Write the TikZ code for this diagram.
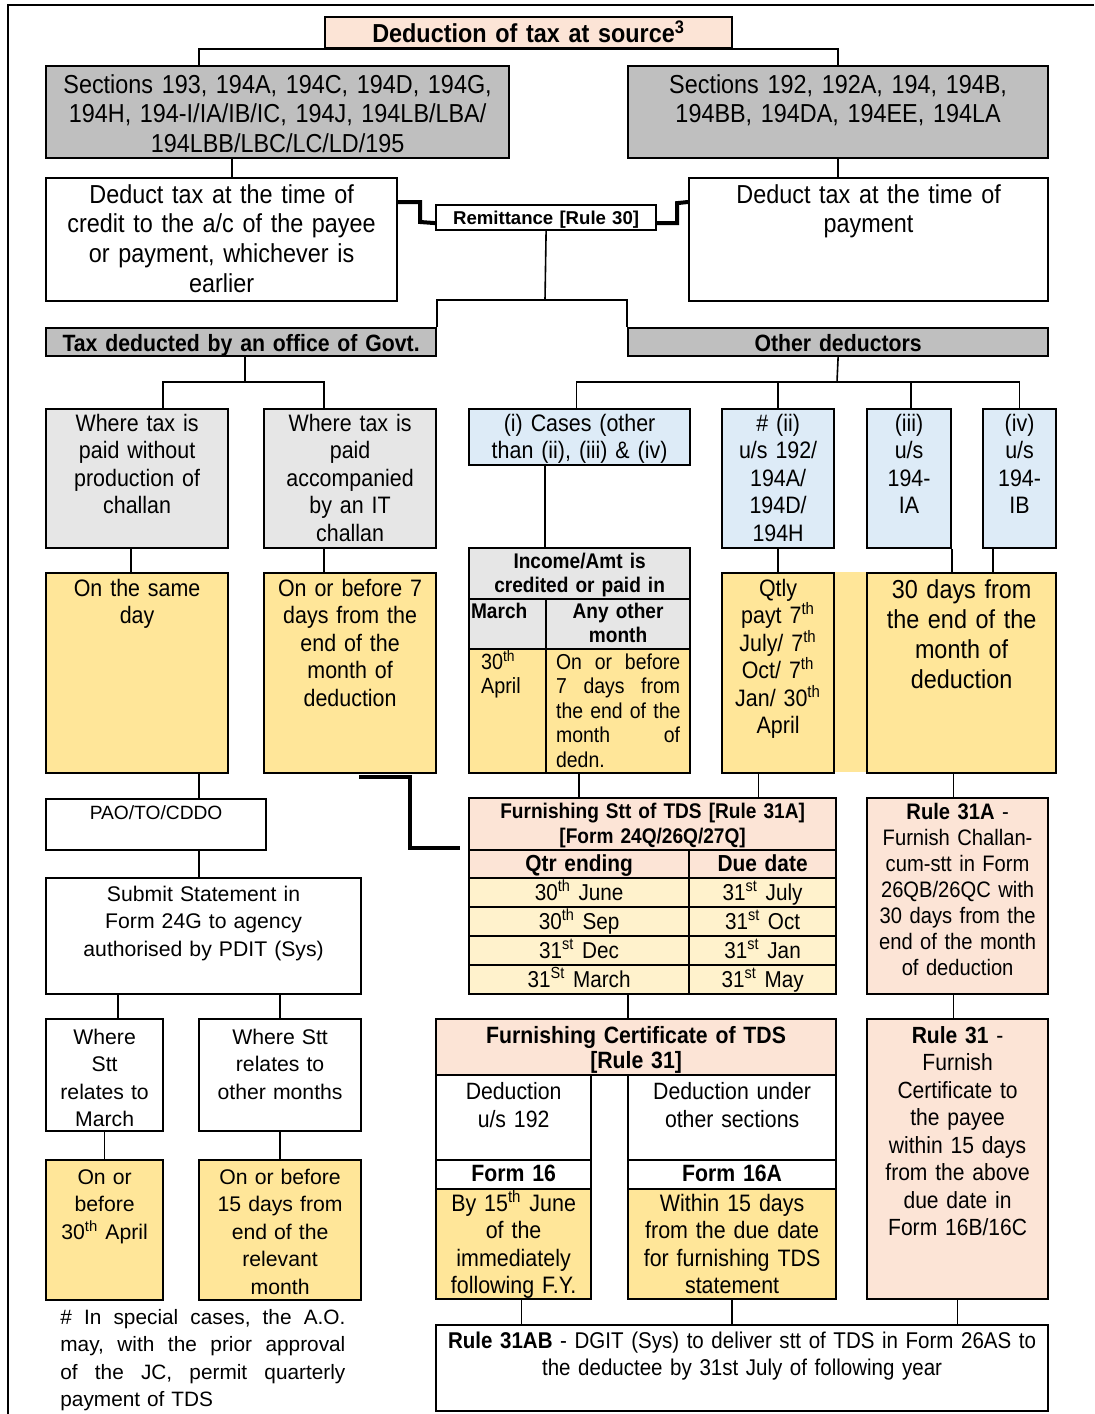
\documentclass[tikz,border=0pt]{standalone}
\usepackage{fontspec}
\setmainfont{Liberation Sans}[FakeStretch=0.9]
\newfontfamily\widefont{Liberation Sans}
\usepackage{xcolor}
\usepackage{tikz}
\definecolor{tdsgray}  {HTML}{BFBFBF}
\definecolor{tdslight} {HTML}{E6E6E6}
\definecolor{tdsyellow}{HTML}{FFE699}
\definecolor{tdspale}  {HTML}{FFF2CC}
\definecolor{tdspeach} {HTML}{FCE4D6}
\definecolor{tdsblue}  {HTML}{DDEBF7}
\newcommand\fbig{\fontsize{13}{14.9}\selectfont}
\newcommand\fmed{\fontsize{11.9}{13.75}\selectfont}
\newcommand\fwide{\widefont\fontsize{10.6}{13.75}\selectfont}
\newcommand\sth{\textsuperscript{th}}
\newcommand\sst{\textsuperscript{st}}

\begin{document}
\begin{tikzpicture}[x=0.5pt, y=-0.5pt,
    tdsbox/.style = {draw, line width=1.1pt, inner xsep=1pt, inner ysep=0pt,
                     align=center, anchor=north west},
    sz/.code n args = {3}{%
        \pgfmathsetlengthmacro\tdsw{#1*0.5pt-2pt}%
        \edef\tdsset{\noexpand\tikzset{text width=\tdsw}}\tdsset
        \tikzset{minimum width=#1*0.5pt, text height=#3pt,
                 text depth=#2*0.5pt-#3pt}},
    gbox/.style = {tdsbox, fill=tdsgray},
    lbox/.style = {tdsbox, fill=tdslight},
    ybox/.style = {tdsbox, fill=tdsyellow},
    pbox/.style = {tdsbox, fill=tdspeach},
    bbox/.style = {tdsbox, fill=tdsblue},
    cbox/.style = {tdsbox, fill=tdspale},
    wbox/.style = {tdsbox, fill=white},
    ln/.style   = {line width=0.8pt},
    thk/.style  = {line width=2pt}
  ]
  \useasboundingbox (0,0) rectangle (1094,1414);
  \draw[line width=1pt] (8,1414) -- (8,5) -- (1094,5);

  %% top
  \node[pbox, sz={407}{31}{12.5}, font=\fbig\bfseries] (title) at (324,16)
        {Deduction of tax at source\textsuperscript{3}};
  \node[gbox, sz={463}{92}{13.5}, font=\fbig] (s1) at (45,65)
        {Sections 193, 194A, 194C, 194D, 194G,\\
         194H, 194-I/IA/IB/IC, 194J, 194LB/LBA/\\
         194LBB/LBC/LC/LD/195};
  \node[gbox, sz={420}{92}{13.5}, font=\fbig] (s2) at (627,65)
        {Sections 192, 192A, 194, 194B,\\ 194BB, 194DA, 194EE, 194LA};
  \node[wbox, sz={351}{123}{12.5}, font=\fbig] (d1) at (45,177)
        {Deduct tax at the time of\\ credit to the a/c of the payee\\
         or payment, whichever is\\ earlier};
  \node[wbox, sz={359}{123}{12.5}, font=\fbig] (d2) at (688,177)
        {Deduct tax at the time of\\ payment};
  \node[wbox, sz={220}{25}{9.5}, font=\widefont\fontsize{9.3}{11}\selectfont\bfseries]
        (rem) at (435,204) {Remittance [Rule 30]};

  \node[gbox, sz={390}{28}{11.5}, font=\fontsize{11.8}{13}\selectfont\bfseries]
        (gov) at (45,327) {Tax deducted by an office of Govt.};
  \node[gbox, sz={420}{28}{11.5}, font=\fontsize{11.8}{13}\selectfont\bfseries]
        (oth) at (627,327) {Other deductors};

  %% Govt. side
  \node[lbox, sz={182}{139}{11}, font=\fmed] (w1) at (45,408)
        {Where tax is\\ paid without\\ production of\\ challan};
  \node[lbox, sz={172}{139}{11}, font=\fmed] (w2) at (263,408)
        {Where tax is\\ paid\\ accompanied\\ by an IT\\ challan};
  \node[ybox, sz={182}{200}{11.5}, font=\fmed] (y1) at (45,572)
        {On the same\\ day};
  \node[ybox, sz={172}{200}{11.5}, font=\fmed] (y2) at (263,572)
        {On or before 7\\ days from the\\ end of the\\ month of\\ deduction};
  \node[wbox, sz={220}{51}{10}, font=\widefont\fontsize{9.6}{12}\selectfont]
        (pao) at (45,798) {PAO/TO/CDDO};
  \node[wbox, sz={315}{116}{11.5}, font=\fwide] (sub) at (45,877)
        {Submit Statement in\\ Form 24G to agency\\ authorised by PDIT (Sys)};
  \node[wbox, sz={117}{112}{12.5}, font=\fwide] (wm) at (45,1018)
        {Where\\ Stt\\ relates to\\ March};
  \node[wbox, sz={162}{112}{12.5}, font=\fwide] (wo) at (198,1018)
        {Where Stt\\ relates to\\ other months};
  \node[ybox, sz={117}{140}{12}, font=\fwide] (ym) at (45,1159)
        {On or\\ before\\ 30\sth{} April};
  \node[ybox, sz={162}{140}{12}, font=\fwide] (yo) at (198,1159)
        {On or before\\ 15 days from\\ end of the\\ relevant\\ month};
  \node[anchor=north west, inner sep=0pt, align=left, text width=142.5pt,
        text height=9.5pt, font=\widefont\fontsize{10.4}{13.75}\selectfont]
        (note) at (60,1305)
        {\makebox[142.5pt][s]{\# \hfill In \hfill special \hfill cases, \hfill the \hfill A.O.}\\
         \makebox[142.5pt][s]{may, \hfill with \hfill the \hfill prior \hfill approval}\\
         \makebox[142.5pt][s]{of \hfill the \hfill JC, \hfill permit \hfill quarterly}\\
         payment of TDS};

  %% Other deductors
  \node[bbox, sz={221}{56}{11}, font=\fmed] (c1) at (468,408)
        {(i) Cases (other\\ than (ii), (iii) \& (iv)};
  \node[bbox, sz={112}{139}{11}, font=\fmed] (c2) at (721,408)
        {\# (ii)\\ u/s 192/\\ 194A/\\ 194D/\\ 194H};
  \node[bbox, sz={84}{139}{11}, font=\fmed] (c3) at (866,408)
        {(iii)\\ u/s\\ 194-\\ IA};
  \node[bbox, sz={73}{139}{11}, font=\fmed] (c4) at (982,408)
        {(iv)\\ u/s\\ 194-\\ IB};

  \node[lbox, sz={221}{51}{10}, font=\fontsize{10.6}{12}\selectfont\bfseries]
        (th) at (468,547) {Income/Amt is\\ credited or paid in};
  \node[lbox, sz={77}{50}{9.5}, align=left,
        font=\fontsize{10.6}{12}\selectfont\bfseries] (tm) at (468,598) {March};
  \node[lbox, sz={144}{50}{9.5}, font=\fontsize{10.6}{12}\selectfont\bfseries]
        (ta) at (545,598) {Any other\\ month};
  \node[ybox, sz={77}{124}{10}, align=left, font=\fontsize{11}{12.25}\selectfont]
        (tv1) at (468,648) {\hspace*{5pt}30\sth\\ \hspace*{5pt}April};
  \node[ybox, sz={144}{124}{10}, font=\fontsize{10.8}{12.25}\selectfont]
        (tv2) at (545,648)
        {\makebox[62pt][s]{On \hfill or \hfill before}\\
         \makebox[62pt][s]{7 \hfill days \hfill from}\\
         \makebox[62pt][s]{the \hfill end \hfill of \hfill the}\\
         \makebox[62pt][s]{month \hfill of}\\
         \makebox[62pt][l]{dedn.}};

  \fill[tdsyellow] (833,572) rectangle (866,772);
  \node[ybox, sz={112}{200}{11.5}, font=\fmed] (qtly) at (721,572)
        {Qtly\\ payt 7\sth\\ July/ 7\sth\\ Oct/ 7\sth\\ Jan/ 30\sth\\ April};
  \node[ybox, sz={189}{200}{12.5}, font=\fontsize{13}{15}\selectfont]
        (days30) at (866,572)
        {30 days from\\ the end of the\\ month of\\ deduction};

  %% Furnishing statement
  \node[pbox, sz={367}{52}{10}, font=\fontsize{10.6}{12.5}\selectfont\bfseries]
        (ft) at (468,797)
        {Furnishing Stt of TDS [Rule 31A]\\ {[Form 24Q/26Q/27Q]}};
  \node[pbox, sz={220}{28}{10.5}, font=\fontsize{11.6}{13}\selectfont\bfseries]
        (fh1) at (468,849) {Qtr ending};
  \node[pbox, sz={147}{28}{10.5}, font=\fontsize{11.6}{13}\selectfont\bfseries]
        (fh2) at (688,849) {Due date};
  \foreach \qt/\dd [count=\i] in {30\sth{} June/31\sst{} July, 30\sth{} Sep/31\sst{} Oct,
                                  31\sst{} Dec/31\sst{} Jan, 31\textsuperscript{St} March/31\sst{} May} {
    \node[cbox, sz={220}{29}{11}, font=\fontsize{11.5}{13}\selectfont]
          (qa\i) at (468,{877+29*(\i-1)}) {\qt};
    \node[cbox, sz={147}{29}{11}, font=\fontsize{11.5}{13}\selectfont]
          (qb\i) at (688,{877+29*(\i-1)}) {\dd};
  }
  \node[pbox, sz={181}{196}{10.5}, font=\fontsize{11.2}{13}\selectfont]
        (r31a) at (866,797)
        {\textbf{Rule 31A} -\\ Furnish Challan-\\ cum-stt in Form\\ 26QB/26QC with\\
         30 days from the\\ end of the month\\ of deduction};

  %% Furnishing certificate
  \node[pbox, sz={400}{56}{12}, font=\fontsize{11.8}{12.5}\selectfont\bfseries]
        (fct) at (435,1018) {Furnishing Certificate of TDS\\ {[Rule 31]}};
  \node[wbox, sz={155}{85}{12}, font=\fontsize{11.8}{14}\selectfont]
        (fl1) at (435,1074) {Deduction\\ u/s 192};
  \node[wbox, sz={208}{85}{12}, font=\fontsize{11.8}{14}\selectfont]
        (fr1) at (627,1074) {Deduction under\\ other sections};
  \node[wbox, sz={155}{29}{10.5}, font=\fontsize{11.8}{13}\selectfont\bfseries]
        (fl2) at (435,1159) {Form 16};
  \node[wbox, sz={208}{29}{10.5}, font=\fontsize{11.8}{13}\selectfont\bfseries]
        (fr2) at (627,1159) {Form 16A};
  \node[ybox, sz={155}{110}{11}, font=\fmed] (fl3) at (435,1188)
        {By 15\sth{} June\\ of the\\ immediately\\ following F.Y.};
  \node[ybox, sz={208}{110}{11}, font=\fmed] (fr3) at (627,1188)
        {Within 15 days\\ from the due date\\ for furnishing TDS\\ statement};
  \node[pbox, sz={181}{280}{12}, font=\fontsize{11.7}{13.75}\selectfont]
        (r31) at (866,1018)
        {\textbf{Rule 31} -\\ Furnish\\ Certificate to\\ the payee\\ within 15 days\\
         from the above\\ due date in\\ Form 16B/16C};
  \node[wbox, sz={612}{86}{11.5}, font=\fontsize{11.4}{13.5}\selectfont]
        (bot) at (435,1324)
        {\textbf{Rule 31AB} - DGIT (Sys) to deliver stt of TDS in Form 26AS to\\
         the deductee by 31st July of following year};

  %% connectors
  \coordinate (tj) at (545,300);
  \coordinate (gj) at (245,382);
  \coordinate (oj) at (837,382);
  \draw[ln] ([xshift=-39.25pt]s1.north) |- (title.south) -| (s2.north);
  \draw[ln] ([xshift=5.25pt]d1.north) -- ([xshift=5.25pt]d1.north |- s1.south);
  \draw[ln] (s2.south) -- (s2.south |- d2.north);
  \draw[thk] ([yshift=-12.5pt]d1.north east) -| ++(11pt,-10pt)
        -- ([yshift=-2.75pt]rem.west);
  \draw[thk] ([yshift=-2.75pt]rem.east) -| ++(10pt,10pt)
        -- ([yshift=-12.5pt]d2.north west);
  \draw[ln] (rem.south) -- (tj);
  \draw[ln] (gov.north east) |- (tj) -| (oth.north west);

  \draw[ln] (gov.south -| gj) -- (gj);
  \draw[ln] ([xshift=13pt]w1.north) |- (gj) -| ([xshift=-13pt]w2.north);
  \draw[ln] ([xshift=-3pt]w1.south) -- ([xshift=-3pt]y1.north);
  \draw[ln] ([xshift=-13pt]w2.south) -- ([xshift=-13pt]y2.north);
  \draw[ln] ([xshift=21.5pt]pao.north) -- ([xshift=21.5pt]pao.north |- y1.south);
  \draw[ln] ([xshift=21.5pt]pao.south) -- ([xshift=21.5pt]pao.south |- sub.north);
  \draw[ln] ([xshift=6.75pt]wm.north) -- ([xshift=6.75pt]wm.north |- sub.south);
  \draw[ln] (wo.north) -- (wo.north |- sub.south);
  \draw[ln] (wm.south) -- (ym.north);
  \draw[ln] (wo.south) -- (yo.north);

  \draw[ln] (oth.south) -- (oj);
  \draw[ln] ([xshift=-1.5pt]c1.north) |- (oj) -| (c4.north);
  \draw[ln] (c2.north) -- (c2.north |- oj);
  \draw[ln] ([xshift=1pt]c3.north) -- ([xshift=1pt]c3.north |- oj);
  \draw[ln] (ta.north west |- c1.south) -- (ta.north west |- th.north);
  \draw[ln] (c2.south) -- (qtly.north);
  \draw[ln] (c3.south east) -- (c3.south east |- days30.north);
  \draw[ln] ([xshift=-13.25pt]c4.south) -- ([xshift=-13.25pt]c4.south |- days30.north);

  \draw[ln] (fh1 |- tv2.south) -- (fh1 |- ft.north);
  \draw[ln] ([xshift=-2pt]fh2.north |- qtly.south) -- ([xshift=-2pt]fh2.north |- ft.north);
  \draw[ln] ([xshift=-2pt]r31a.north |- days30.south) -- ([xshift=-2pt]r31a.north);
  \draw[thk] ([xshift=4.5pt,yshift=-1.5pt]y2.south)
        -| ([xshift=-29pt,yshift=1.5pt]ft.south west)
        -- ([xshift=-4pt,yshift=1.5pt]ft.south west);
  \draw[ln] ([xshift=-4pt]fct.north |- qa4.south) -- ([xshift=-4pt]fct.north);
  \draw[ln] ([xshift=-2pt]r31a.south) -- ([xshift=-2pt]r31.north);
  \draw[ln] ([xshift=4pt]fl3.south) -- ([xshift=4pt]fl3.south |- bot.north);
  \draw[ln] (fr3.south) -- (fr3.south |- bot.north);
  \draw[ln] (r31.south) -- (r31.south |- bot.north);

\end{tikzpicture}
\end{document}
